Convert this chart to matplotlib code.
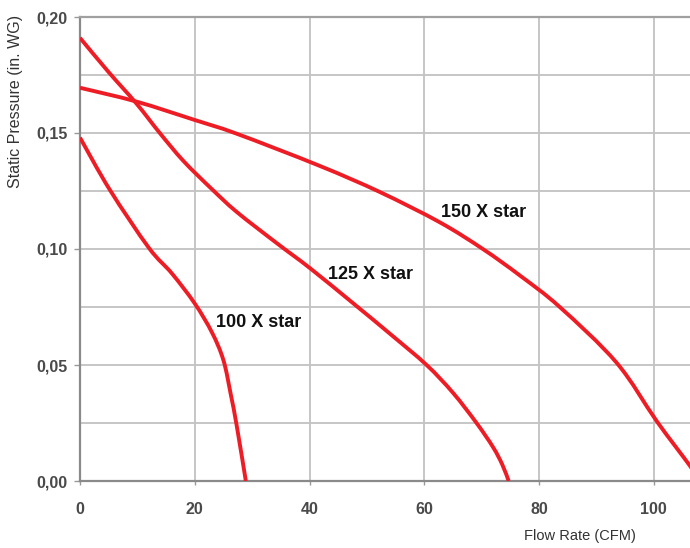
import matplotlib
matplotlib.use("Agg")
import numpy as np
import matplotlib.pyplot as plt
from matplotlib.path import Path
from matplotlib.patches import PathPatch
from matplotlib.ticker import MultipleLocator, FuncFormatter

plt.rcParams['font.family'] = ['Liberation Sans', 'DejaVu Sans']

# fan curves (flow in CFM, static pressure in in. WG)
flow_100 = [0, 5.2, 12.0, 16.0, 20.0, 23.0, 25.0, 26.3, 27.3, 28.9]
sp_100 = [0.148, 0.1255, 0.1005, 0.0895, 0.0765, 0.064, 0.052, 0.037, 0.024, 0.0]

flow_125 = [0, 4.9, 9.9, 13.9, 18.0, 22.9, 27.3, 34.3, 40.1, 47.9, 54.0, 60.4, 65.0, 69.1, 72.0, 73.6, 74.7]
sp_125 = [0.191, 0.1765, 0.1625, 0.150, 0.138, 0.126, 0.116, 0.1025, 0.0917, 0.076, 0.0635, 0.050, 0.038, 0.025, 0.0145, 0.007, 0.0]

flow_150 = [0, 9.9, 20.0, 27.3, 41.8, 52.3, 62.7, 70.2, 76.7, 83.6, 93.5, 100.5, 106.3, 108.0]
sp_150 = [0.1695, 0.1635, 0.1556, 0.1497, 0.1358, 0.1245, 0.1115, 0.100, 0.0885, 0.075, 0.051, 0.0258, 0.0065, 0.0]

curve_names = ['100 X star', '125 X star', '150 X star']
label_pos = [(23.7, 0.0685), (43.2, 0.0888), (62.9, 0.1159)]

red = '#ee1c25'
grid_c = '#c2c2c2'


def smooth_path(xs, ys, ax):
    # Catmull-Rom through the read points, done in display space so the
    # tangents are not distorted by the very different x/y data ranges
    pts = ax.transData.transform(np.column_stack([xs, ys]))
    verts = [pts[0]]
    codes = [Path.MOVETO]
    n = len(pts)
    for i in range(n - 1):
        p0 = pts[max(i - 1, 0)]
        p1 = pts[i]
        p2 = pts[i + 1]
        p3 = pts[min(i + 2, n - 1)]
        c1 = p1 + (p2 - p0) / 6.0
        c2 = p2 - (p3 - p1) / 6.0
        verts += [c1, c2, p2]
        codes += [Path.CURVE4] * 3
    verts = ax.transData.inverted().transform(np.array(verts))
    return Path(verts, codes)


fig = plt.figure(figsize=(6.9, 5.48), dpi=100)
ax = fig.add_axes([80/690, 1-481/548, 1-80/690, (481-17)/548])
ax.set_xlim(0, 106.3)
ax.set_ylim(0, 0.20)

for xs, ys in [(flow_100, sp_100), (flow_125, sp_125), (flow_150, sp_150)]:
    ax.add_patch(PathPatch(smooth_path(xs, ys, ax), facecolor='none', edgecolor=red,
                           lw=2.8, capstyle='butt', joinstyle='round', zorder=3))

for name, (lx, ly) in zip(curve_names, label_pos):
    ax.text(lx, ly, name, fontsize=13, fontweight='bold', color='#111111',
            ha='left', va='center', zorder=4)

ax.xaxis.set_major_locator(MultipleLocator(20))
ax.yaxis.set_major_locator(MultipleLocator(0.05))
ax.yaxis.set_minor_locator(MultipleLocator(0.025))
ax.yaxis.set_major_formatter(FuncFormatter(lambda v, p: ('%.2f' % v).replace('.', ',')))

ax.grid(True, which='major', color=grid_c, lw=1.3, zorder=0)
ax.grid(True, which='minor', axis='y', color=grid_c, lw=1.3, zorder=0)
ax.set_axisbelow(True)

ax.spines['right'].set_visible(False)
ax.spines['left'].set_color('#8a8a8a')
ax.spines['left'].set_linewidth(1.6)
ax.spines['bottom'].set_color('#8a8a8a')
ax.spines['bottom'].set_linewidth(1.6)
ax.spines['top'].set_color('#a0a0a0')
ax.spines['top'].set_linewidth(1.6)

ax.tick_params(axis='y', which='major', length=4, width=1, color='#999999', pad=5,
               labelsize=11.5, labelcolor='#4a4a4a')
ax.tick_params(axis='y', which='minor', length=0)
ax.tick_params(axis='x', which='major', length=3, width=1, color='#999999', pad=12,
               labelsize=11.5, labelcolor='#4a4a4a')
for lab in ax.get_xticklabels() + ax.get_yticklabels():
    lab.set_fontweight('bold')

ax.set_xlabel('Flow Rate (CFM)', fontsize=10.5, color='#333333')
ax.xaxis.set_label_coords(0.82, -0.103)
ax.set_ylabel('Static Pressure (in. WG)', fontsize=11.5, color='#333333')
ax.yaxis.set_label_coords(-0.093, 0.817)

fig.savefig('out.png', dpi=100)
